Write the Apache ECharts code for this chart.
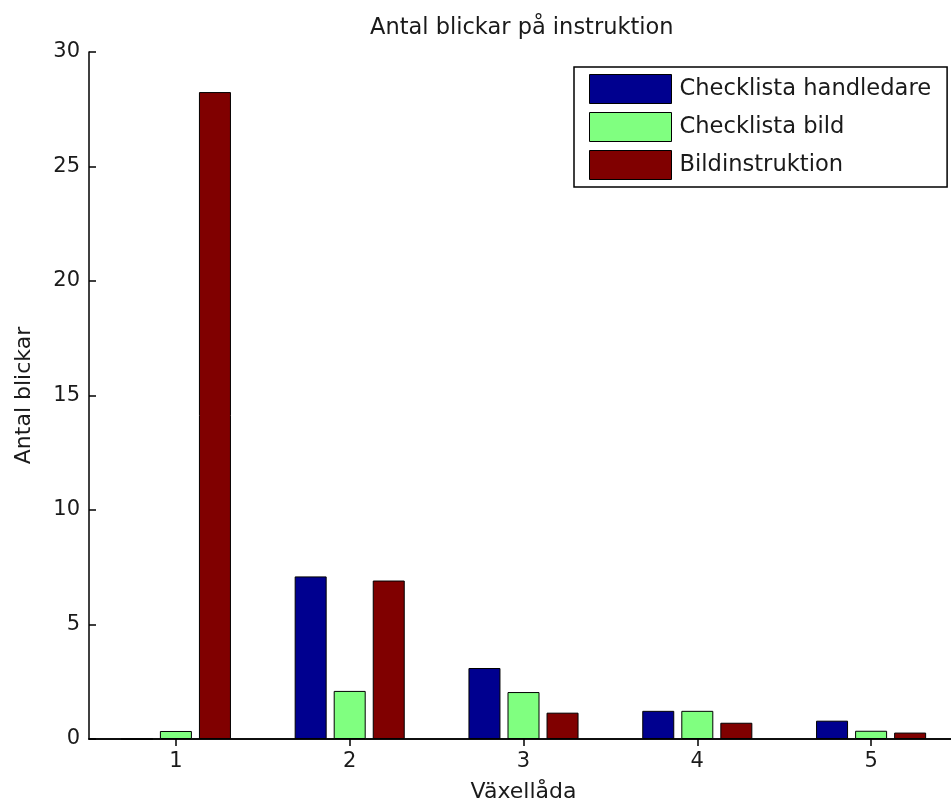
<!DOCTYPE html>
<html>
<head>
<meta charset="utf-8">
<script src="https://cdn.jsdelivr.net/npm/echarts@6/dist/echarts.min.js"></script>
<style>
  html, body { margin: 0; padding: 0; background: #fff; }
  #chart { width: 951px; height: 807px; }
</style>
</head>
<body>
<div id="chart"></div>
<script>
// Antal blickar per växellåda och instruktionstyp
const categories = ['1', '2', '3', '4', '5'];
const seriesNames = ['Checklista handledare', 'Checklista bild', 'Bildinstruktion'];
const checklistaHandledare = [0, 7.1, 3.1, 1.23, 0.8];
const checklistaBild = [0.35, 2.1, 2.05, 1.23, 0.36];
const bildinstruktion = [28.25, 6.92, 1.15, 0.71, 0.28];
const yTicks = [0, 5, 10, 15, 20, 25, 30];

const FONT = 'DejaVu Sans';
const TEXT = '#1a1a1a';
const colors = ['#00008f', '#80ff80', '#800000'];
const values = [checklistaHandledare, checklistaBild, bildinstruktion];

const chart = echarts.init(document.getElementById('chart'), null, { renderer: 'canvas' });

// the axes box runs a little past the right edge of the page
const gridBox = { left: 89, top: 52, right: -7, bottom: 68, containLabel: false, outerBoundsMode: 'none' };

const axisLine = { show: true, lineStyle: { color: '#000', width: 1.5 } };
const tickIn = { show: true, inside: true, length: 7, lineStyle: { color: '#000', width: 1.5 } };

chart.setOption({
  backgroundColor: '#fff',
  animation: false,
  textStyle: { fontFamily: FONT },
  graphic: [{
    type: 'text',
    left: 521 - 151,
    top: 17,
    style: { text: 'Antal blickar på instruktion', fill: TEXT, font: '22.5px "' + FONT + '"' }
  }],
  legend: {
    orient: 'vertical',
    left: 574,
    top: 67,
    padding: [7, 16, 7, 15],
    itemWidth: 82,
    itemHeight: 29,
    itemGap: 8,
    borderColor: '#000',
    borderWidth: 1.5,
    backgroundColor: '#fff',
    icon: 'rect',
    itemStyle: { borderColor: '#000', borderWidth: 1 },
    textStyle: { color: TEXT, fontFamily: FONT, fontSize: 22.6, padding: [0, 0, 0, 3] },
    data: seriesNames,
    selectedMode: false
  },
  grid: gridBox,
  xAxis: [{
    type: 'category',
    data: categories,
    position: 'bottom',
    boundaryGap: true,
    axisLine: axisLine,
    axisTick: Object.assign({ alignWithLabel: true }, tickIn),
    axisLabel: { color: TEXT, fontFamily: FONT, fontSize: 21, margin: 12 },
    name: 'Växellåda',
    nameLocation: 'middle',
    nameGap: 42,
    nameTextStyle: { color: TEXT, fontFamily: FONT, fontSize: 22 },
    splitLine: { show: false }
  }, {
    type: 'category',
    data: categories,
    position: 'top',
    boundaryGap: true,
    axisLine: axisLine,
    axisTick: Object.assign({ alignWithLabel: true }, tickIn),
    axisLabel: { show: false },
    splitLine: { show: false }
  }],
  yAxis: [{
    type: 'value',
    min: yTicks[0],
    max: yTicks[yTicks.length - 1],
    interval: yTicks[1] - yTicks[0],
    position: 'left',
    axisLine: axisLine,
    axisTick: tickIn,
    axisLabel: { color: TEXT, fontFamily: FONT, fontSize: 21, margin: 9 },
    splitLine: { show: false },
    name: 'Antal blickar',
    nameLocation: 'middle',
    nameGap: 54,
    nameTextStyle: { color: TEXT, fontFamily: FONT, fontSize: 22 }
  }, {
    type: 'value',
    min: yTicks[0],
    max: yTicks[yTicks.length - 1],
    interval: yTicks[1] - yTicks[0],
    position: 'right',
    axisLine: axisLine,
    axisTick: tickIn,
    axisLabel: { show: false },
    splitLine: { show: false }
  }],
  series: seriesNames.map((name, i) => ({
    name: name,
    type: 'bar',
    xAxisIndex: 0,
    yAxisIndex: 0,
    data: values[i],
    barWidth: 32,
    barGap: '22%',
    itemStyle: { color: colors[i], borderColor: '#000', borderWidth: 1 },
    emphasis: { disabled: true }
  }))
});
</script>
</body>
</html>
